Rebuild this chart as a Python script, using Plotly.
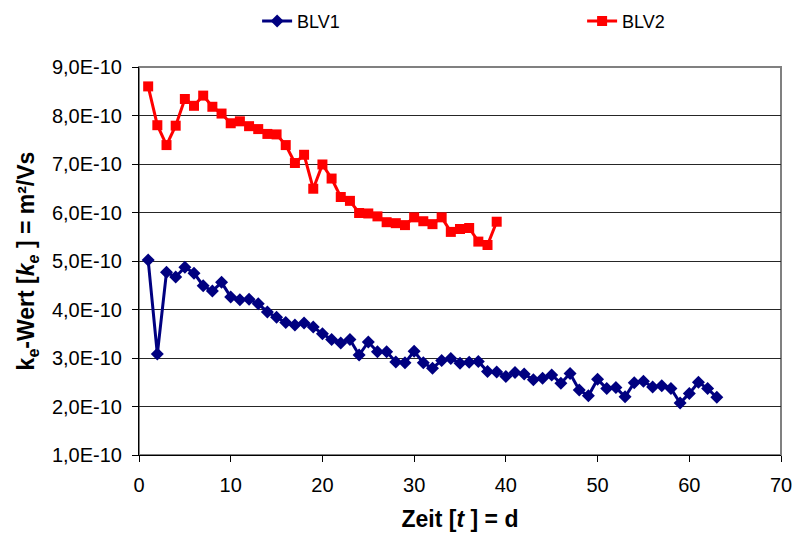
import numpy as np
import plotly.graph_objects as go

# k_e values in units of 1E-10 m²/Vs, one per day
days_blv1 = list(range(1, 64))
ke_blv1 = [5.02, 3.08, 4.77, 4.67, 4.87, 4.75, 4.49, 4.38, 4.56, 4.26,
           4.20, 4.21, 4.12, 3.95, 3.84, 3.73, 3.68, 3.72, 3.64, 3.50,
           3.38, 3.31, 3.38, 3.06, 3.33, 3.13, 3.13, 2.92, 2.90, 3.14,
           2.90, 2.79, 2.95, 2.99, 2.89, 2.91, 2.93, 2.72, 2.71, 2.62,
           2.70, 2.67, 2.55, 2.58, 2.65, 2.48, 2.68, 2.34, 2.22, 2.56,
           2.37, 2.39, 2.20, 2.49, 2.52, 2.40, 2.43, 2.37, 2.07, 2.27,
           2.50, 2.37, 2.19]

days_blv2 = list(range(1, 40))
ke_blv2 = [8.60, 7.80, 7.39, 7.79, 8.34, 8.20, 8.41, 8.18, 8.04, 7.84,
           7.88, 7.78, 7.72, 7.62, 7.61, 7.39, 7.02, 7.19, 6.49, 6.99,
           6.70, 6.32, 6.24, 5.99, 5.98, 5.92, 5.80, 5.78, 5.74, 5.90,
           5.82, 5.76, 5.90, 5.60, 5.66, 5.68, 5.40, 5.33, 5.81]

y_ticks = [1, 2, 3, 4, 5, 6, 7, 8, 9]
y_tick_labels = ["1,0E-10", "2,0E-10", "3,0E-10", "4,0E-10", "5,0E-10",
                 "6,0E-10", "7,0E-10", "8,0E-10", "9,0E-10"]
x_ticks = [0, 10, 20, 30, 40, 50, 60, 70]

SCALE = 1e-10
FONT = "Liberation Sans, Arial, sans-serif"

fig = go.Figure()
fig.add_trace(go.Scatter(
    x=days_blv1, y=np.array(ke_blv1) * SCALE, name="BLV1",
    mode="lines+markers",
    line=dict(color="#000080", width=3),
    marker=dict(symbol="diamond", size=10, color="#000080"),
    legendwidth=280,
))
fig.add_trace(go.Scatter(
    x=days_blv2, y=np.array(ke_blv2) * SCALE, name="BLV2",
    mode="lines+markers",
    line=dict(color="#FF0000", width=3),
    marker=dict(symbol="square", size=10, color="#FF0000"),
    legendwidth=50,
))

# grey frame around the plot area (top and right edges stay visible)
fig.add_shape(type="rect", xref="paper", yref="paper", x0=0, y0=0, x1=1, y1=1,
              line=dict(color="#808080", width=2), layer="below")

fig.update_layout(
    width=796, height=535,
    margin=dict(l=139, r=15, t=67, b=80, autoexpand=False),
    paper_bgcolor="white", plot_bgcolor="white",
    font=dict(family=FONT, color="black", size=20),
    showlegend=True,
    legend=dict(
        orientation="h", xref="container", yref="container",
        x=0.323, y=0.995, xanchor="left", yanchor="top",
        font=dict(size=18), itemwidth=30,
    ),
    xaxis=dict(
        range=[0, 70], tickvals=x_ticks, ticks="outside", ticklen=6,
        tickcolor="black", showline=True, linecolor="black", linewidth=1,
        showgrid=False, zeroline=False, ticklabelstandoff=6,
        tickfont=dict(size=20), automargin=False,
        title=dict(text="<b>Zeit [<i>t</i> ] = d</b>", font=dict(size=23), standoff=15),
    ),
    yaxis=dict(
        range=[SCALE * 1, SCALE * 9],
        tickvals=[v * SCALE for v in y_ticks], ticktext=y_tick_labels,
        ticks="outside", ticklen=6, tickcolor="black",
        showline=True, linecolor="black", linewidth=1,
        showgrid=True, gridcolor="#262626", gridwidth=1, zeroline=False,
        ticklabelstandoff=6, tickfont=dict(size=20), automargin=False,
        title=dict(text="<b>k<sub>e</sub>-Wert [<i>k<sub>e</sub></i> ] = m²/Vs</b>",
                   font=dict(size=23), standoff=10),
    ),
)

fig.write_html("out.html")
